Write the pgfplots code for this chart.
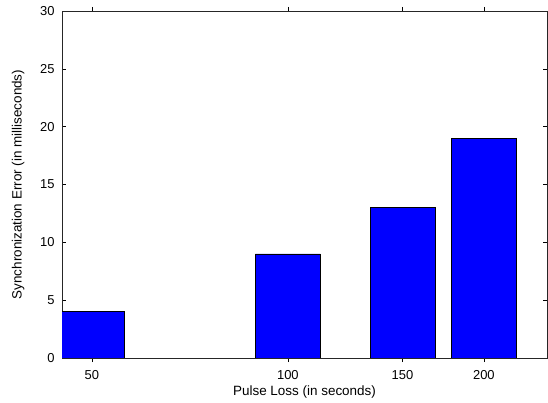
\documentclass[border=0pt]{standalone}
\usepackage{fontspec}
\setmainfont{Liberation Sans}
\usepackage{pgfplots}
\pgfplotsset{compat=1.18}
\begin{document}
\begin{tikzpicture}
\begin{axis}[
  at={(0,0)}, anchor=south west,
  scale only axis,
  width=485bp, height=347bp,
  xmode=log,
  xmin=45, xmax=250,
  ymin=0, ymax=30,
  xtick={50,100,150,200},
  xticklabels={50,100,150,200},
  ytick={0,5,10,15,20,25,30},
  minor xtick={}, minor ytick={},
  log ticks with fixed point,
  tick align=inside,
  major tick length=4bp,
  tick style={black, line width=0.6pt},
  axis line style={line width=0.9pt, black!85},
  font=\fontsize{13.5}{15}\selectfont,
  /pgf/number format/assume math mode=true,
  yticklabel style={xshift=-4bp, font=\fontsize{13}{15}\selectfont},
  xticklabel style={yshift=-5bp, font=\fontsize{13}{15}\selectfont},
  every axis y label/.style={at={(axis description cs:-0.0907,0.5)}, rotate=90, anchor=center},
  every axis x label/.style={at={(axis description cs:0.5,-0.098)}, anchor=center},
  xlabel={Pulse Loss (in seconds)},
  ylabel={Synchronization Error (in milliseconds)},
  ybar, bar width=65bp,
]
\addplot[fill=blue, draw=black, line width=0.6pt] coordinates {(50,4) (100,9) (150,13) (200,19)};
\end{axis}
\pgfresetboundingbox
\useasboundingbox (-62bp,-45bp) rectangle (486bp,358bp);
\end{tikzpicture}
\end{document}
